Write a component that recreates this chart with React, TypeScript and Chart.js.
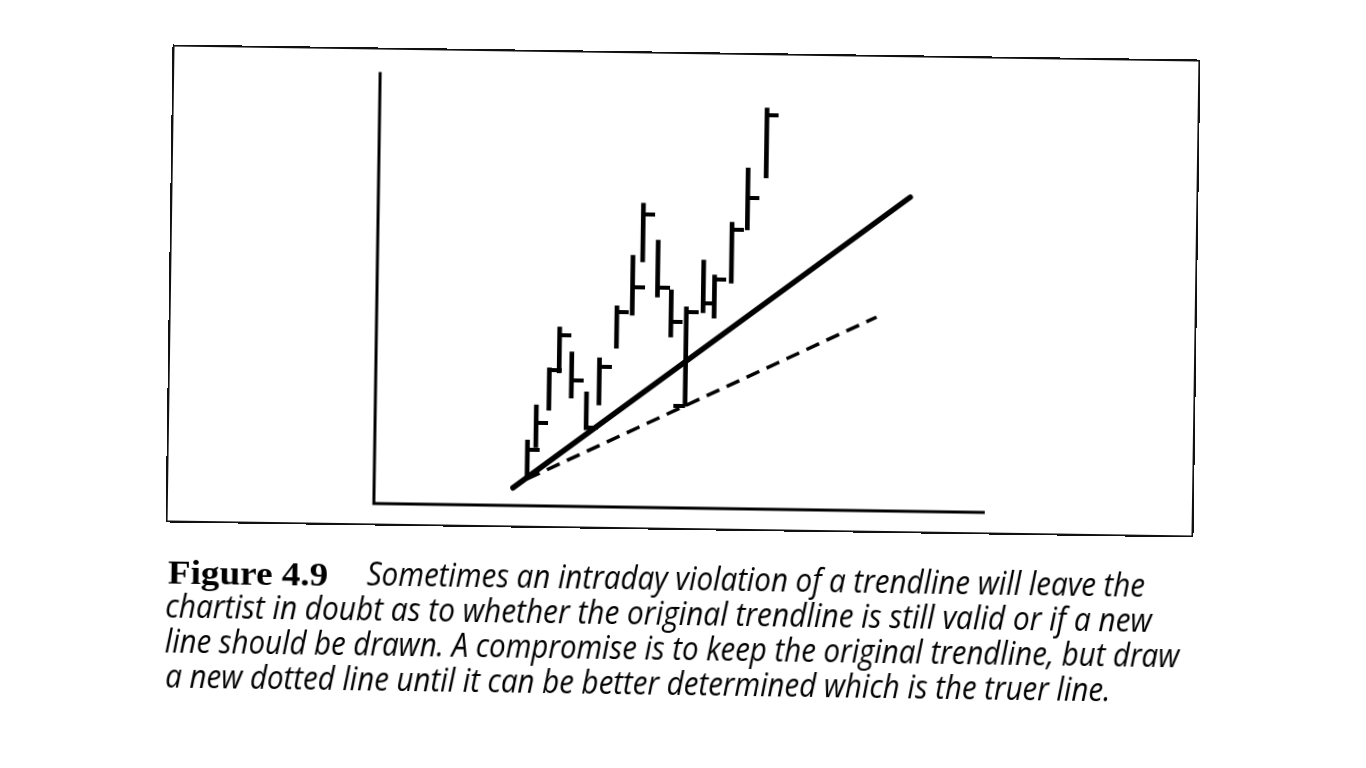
import React, { useEffect, useLayoutEffect, useRef } from 'react';
import { Chart, registerables } from 'chart.js';

Chart.register(...registerables);

// ---- Data ----
const barX = [11.0, 11.6, 12.5, 13.2, 14.1, 15.2, 16.1, 17.3, 18.4, 19.1, 20.2, 21.2, 22.3, 23.5, 24.3, 25.5, 26.6, 27.9];
const barHigh = [15.2, 23.4, 32.0, 41.5, 35.8, 26.6, 34.5, 46.6, 58.4, 70.5, 62.0, 50.5, 46.6, 57.5, 54.1, 66.4, 79.0, 93.0];
const barLow = [6.7, 13.6, 22.2, 30.9, 25.1, 17.8, 23.6, 36.8, 44.5, 56.9, 48.8, 39.6, 23.6, 45.3, 44.1, 52.3, 64.7, 76.8];
const barClose = [12.9, 19.2, 31.5, 39.7, 29.3, 18.4, 32.4, 45.2, 51.0, 68.0, 51.1, 43.1, 45.4, 47.6, 53.0, 64.6, 72.1, 91.4];
const barOpen: (number | null)[] = [null, null, null, null, null, null, null, null, null, null, null, null, 23.6, null, null, null, null, null];

const trendX = [10.0, 38.3];
const trendY = [4.1, 72.8];
const dottedX = [11.0, 36.0];
const dottedY = [6.2, 44.9];

const X_MAX = 44;
const Y_MAX = 100;

const CAPTION_LABEL = 'Figure 4.9';
const CAPTION_LINES = [
  'Sometimes an intraday violation of a trendline will leave the',
  'chartist in doubt as to whether the original trendline is still valid or if a new',
  'line should be drawn. A compromise is to keep the original trendline, but draw',
  'a new dotted line until it can be better determined which is the truer line.',
];

// ---- Layout ----
const FRAME = { left: 169, top: 52, width: 1028, height: 478 };
const CHART_PAD = { left: 208, top: 24.5, right: 209, bottom: 22 };
const captionBoxes = [
  { left: 172, width: 160, center: 584, font: 33 },
  { left: 371, width: 778, center: 581, font: 32 },
  { left: 170, width: 987, center: 616, font: 32 },
  { left: 170, width: 1015, center: 651, font: 32 },
  { left: 171, width: 945, center: 686, font: 32 },
];

function makeTick(side: 'left' | 'right', len = 12, th = 4) {
  const c = document.createElement('canvas');
  c.width = len * 2;
  c.height = th;
  const g = c.getContext('2d')!;
  g.fillStyle = '#000';
  if (side === 'right') g.fillRect(len, 0, len, th);
  else g.fillRect(0, 0, len, th);
  return c;
}

const axesPlugin = {
  id: 'handAxes',
  beforeDatasetsDraw(chart: any) {
    const { ctx, chartArea } = chart;
    const { left, top, right, bottom } = chartArea;
    ctx.save();
    ctx.strokeStyle = '#000';
    ctx.lineWidth = 3;
    ctx.lineJoin = 'miter';
    ctx.beginPath();
    ctx.moveTo(left, top);
    ctx.lineTo(left, bottom);
    ctx.lineTo(right, bottom);
    ctx.stroke();
    ctx.restore();
  },
};

export default function App() {
  const canvasRef = useRef<HTMLCanvasElement | null>(null);
  const spanRefs = useRef<(HTMLSpanElement | null)[]>([]);

  useEffect(() => {
    if (!canvasRef.current) return;
    const rightTick = makeTick('right');
    const leftTick = makeTick('left');
    const chart = new Chart(canvasRef.current, {
      type: 'bar',
      data: {
        datasets: [
          {
            type: 'line',
            data: trendX.map((x, i) => ({ x, y: trendY[i] })),
            borderColor: '#000',
            borderWidth: 5.5,
            pointRadius: 0,
            borderCapStyle: 'round',
            order: 1,
          } as any,
          {
            type: 'line',
            data: dottedX.map((x, i) => ({ x, y: dottedY[i] })),
            borderColor: '#000',
            borderWidth: 3.5,
            borderDash: [14, 8],
            pointRadius: 0,
            order: 2,
          } as any,
          {
            type: 'bar',
            data: barX.map((x, i) => ({ x, y: [barLow[i], barHigh[i]] })),
            backgroundColor: '#000',
            borderWidth: 0,
            barThickness: 4,
            order: 3,
          } as any,
          {
            type: 'scatter',
            data: barX.map((x, i) => ({ x, y: barClose[i] })),
            pointStyle: rightTick,
            pointRadius: 6,
            showLine: false,
            order: 4,
          } as any,
          {
            type: 'scatter',
            data: barX
              .map((x, i) => ({ x, y: barOpen[i] }))
              .filter((p) => p.y !== null),
            pointStyle: leftTick,
            pointRadius: 6,
            showLine: false,
            order: 5,
          } as any,
        ],
      },
      options: {
        animation: false,
        responsive: false,
        maintainAspectRatio: false,
        layout: { padding: CHART_PAD },
        plugins: { legend: { display: false }, tooltip: { enabled: false } },
        scales: {
          x: { type: 'linear', min: 0, max: X_MAX, display: false, offset: false },
          y: { type: 'linear', min: 0, max: Y_MAX, display: false },
        },
      },
      plugins: [axesPlugin],
    } as any);
    return () => chart.destroy();
  }, []);

  useLayoutEffect(() => {
    spanRefs.current.forEach((el, i) => {
      if (!el) return;
      el.style.transform = 'none';
      const w = el.offsetWidth;
      if (w > 0) el.style.transform = `scaleX(${captionBoxes[i].width / w})`;
    });
  }, []);

  const texts = [CAPTION_LABEL, ...CAPTION_LINES];

  return (
    <div
      style={{
        position: 'fixed',
        left: 0,
        top: 0,
        width: 1366,
        height: 768,
        transform: 'rotate(0.84deg)',
        transformOrigin: '683px 291px',
        background: '#fff',
      }}
    >
      <canvas
        ref={canvasRef}
        width={FRAME.width}
        height={FRAME.height}
        style={{ position: 'absolute', left: FRAME.left, top: FRAME.top, width: FRAME.width, height: FRAME.height }}
      />
      <div
        style={{
          position: 'absolute',
          left: FRAME.left,
          top: FRAME.top,
          width: FRAME.width,
          height: FRAME.height,
          border: '2px solid #111',
          boxSizing: 'border-box',
          pointerEvents: 'none',
        }}
      />
      {texts.map((t, i) => {
        const box = captionBoxes[i];
        const isLabel = i === 0;
        return (
          <span
            key={i}
            ref={(el) => {
              spanRefs.current[i] = el;
            }}
            style={{
              position: 'absolute',
              left: box.left,
              top: box.center - box.font * 0.6,
              fontSize: box.font,
              lineHeight: `${box.font}px`,
              whiteSpace: 'nowrap',
              display: 'inline-block',
              transformOrigin: 'left center',
              color: '#000',
              fontFamily: isLabel ? '"Liberation Serif", "DejaVu Serif", serif' : '"Open Sans", "DejaVu Sans", sans-serif',
              fontWeight: isLabel ? 700 : 500,
              fontStyle: isLabel ? 'normal' : 'italic',
            }}
          >
            {t}
          </span>
        );
      })}
    </div>
  );
}
